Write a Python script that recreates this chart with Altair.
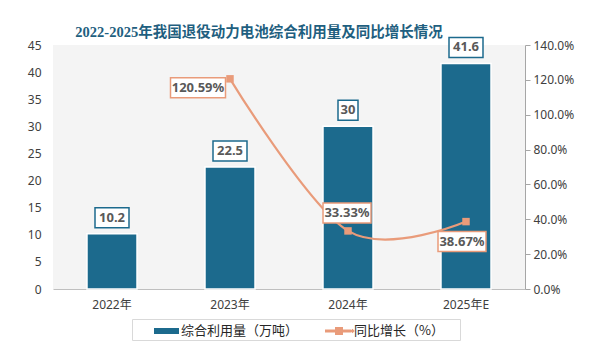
import altair as alt
import pandas as pd

# ---- data ----
years = ["2022年", "2023年", "2024年", "2025年E"]
volume = [10.2, 22.5, 30, 41.6]
volume_labels = ["10.2", "22.5", "30", "41.6"]
growth_years = ["2023年", "2024年", "2025年E"]
growth = [120.59, 33.33, 38.67]
growth_labels = ["120.59%", "33.33%", "38.67%"]
series = ["综合利用量（万吨）", "同比增长（%）"]
left_ticks = [0, 5, 10, 15, 20, 25, 30, 35, 40, 45]
right_ticks = [0, 20, 40, 60, 80, 100, 120, 140]

TEAL = "#1C6A8D"
ORANGE = "#E99B7A"
TXT = "#595959"
AX = "#404040"
FONT = "Noto Sans, Noto Sans CJK SC, sans-serif"


def box_path(s, h=20):
    w = 7 * len(s) + 6
    return f"M{-w/2},{-h/2}H{w/2}V{h/2}H{-w/2}Z"


bars_df = pd.DataFrame({"year": years, "v": volume, "label": volume_labels})
bars_df["box"] = [box_path(s) for s in volume_labels]
bars_df["series"] = series[0]

line_df = pd.DataFrame({"year": growth_years, "g": growth, "label": growth_labels})
line_df["box"] = [box_path(s) for s in growth_labels]
line_df["series"] = series[1]

# legend symbols (unit = 10 px); the lone zero-area subpaths only widen the legend frame
BAR_SYM = "M-1,0L-1,0Z M1,-0.3H3.5V0.3H1Z"
LINE_SYM = ("M0.8,-0.14H3.4V0.14H0.8Z M1.8,-0.4H2.6V0.4H1.8Z "
            "M3.33,0L3.55,-0.22L3.77,0L3.55,0.22Z M14.1,0L14.1,0Z")

legend = alt.Legend(
    title=None, orient="none", legendX=79, legendY=274, direction="horizontal",
    symbolSize=400, symbolOpacity=1, symbolStrokeWidth=0,
    labelFontSize=13, labelFont="Noto Sans CJK SC", labelColor="#262626",
    padding=2, strokeColor="#D9D9D9", fillColor="white", columnPadding=8,
    labelOffset=27,
)
color_scale = alt.Scale(domain=series, range=[TEAL, ORANGE])
shape_scale = alt.Scale(domain=series, range=[BAR_SYM, LINE_SYM])

xenc = alt.X(
    "year:N", sort=years,
    scale=alt.Scale(type="band", paddingInner=0.576, paddingOuter=0.288),
    axis=alt.Axis(title=None, labelAngle=0, ticks=False, domainColor="#BFBFBF",
                  labelPadding=10, labelFontSize=12, labelColor=AX, labelFont=FONT),
)

yleft = alt.Y(
    "v:Q", scale=alt.Scale(domain=[0, 45], nice=False),
    axis=alt.Axis(values=left_ticks, title=None, domain=False, ticks=False, grid=False,
                  labelPadding=12, labelFontSize=12, labelColor=AX, labelFont=FONT),
)

yright = alt.Y(
    "g:Q", scale=alt.Scale(domain=[0, 140], nice=False),
    axis=alt.Axis(orient="right", values=right_ticks, title=None, grid=False,
                  labelExpr="format(datum.value, '.1f') + '%'",
                  domainColor="#A6A6A6", tickColor="#A6A6A6", tickSize=5,
                  labelPadding=3, labelFontSize=12, labelColor=AX, labelFont=FONT),
)

bars = alt.Chart(bars_df).mark_bar(stroke="white", strokeWidth=1.5).encode(
    x=xenc, y=yleft,
    color=alt.Color("series:N", scale=color_scale, legend=legend),
)
bar_boxes = alt.Chart(bars_df).mark_point(
    filled=True, fill="white", stroke=TEAL, strokeWidth=1.5, opacity=1, size=4, yOffset=-16
).encode(x=xenc, y=yleft, shape=alt.Shape("box:N", scale=None, legend=None))
bar_text = alt.Chart(bars_df).mark_text(
    dy=-16, fontWeight="bold", fontSize=13, color=TXT, font=FONT
).encode(x=xenc, y=yleft, text="label:N")

left = alt.layer(bars, bar_boxes, bar_text)

line = alt.Chart(line_df).mark_line(interpolate="cardinal", strokeWidth=2.2, color=ORANGE).encode(
    x=xenc, y=yright,
)
# invisible layer that only carries the legend entry for the line series
legend_marks = alt.Chart(line_df).mark_point(filled=True, size=64, opacity=0).encode(
    x=xenc, y=yright,
    color=alt.Color("series:N", scale=color_scale, legend=legend),
    shape=alt.Shape("series:N", scale=shape_scale, legend=legend),
)
marks = alt.Chart(line_df).mark_square(size=56, color=ORANGE, opacity=1).encode(x=xenc, y=yright)

placements = {"120.59%": (-32, 9), "33.33%": (-1, -18), "38.67%": (-4, 20)}
label_layers = []
for lab, (dx, dy) in placements.items():
    base = alt.Chart(line_df).transform_filter(alt.datum.label == lab)
    label_layers.append(base.mark_point(
        filled=True, fill="white", stroke=ORANGE, strokeWidth=1.5, opacity=1, size=4,
        xOffset=dx, yOffset=dy
    ).encode(x=xenc, y=yright, shape=alt.Shape("box:N", scale=None, legend=None)))
    label_layers.append(base.mark_text(
        dx=dx, dy=dy, fontWeight="bold", fontSize=13, color=TXT, font=FONT
    ).encode(x=xenc, y=yright, text="label:N"))

right = alt.layer(line, legend_marks, marks, *label_layers)

chart = alt.layer(left, right).resolve_scale(y="independent").properties(
    width=472, height=244,
    autosize=alt.AutoSizeParams(type="none"),
    padding={"left": 45, "top": 37, "right": 57, "bottom": 63},
    background="white",
    title=alt.Title(
        "2022-2025年我国退役动力电池综合利用量及同比增长情况",
        fontSize=14.5, fontWeight="bold", color="#1F5F80",
        font="Liberation Serif, Noto Sans CJK SC", anchor="middle", dx=-30, offset=8, dy=14,
    ),
).configure_view(stroke=None, fill="#F4F4F4")

chart.save("out.html", embed_options={"renderer": "svg", "actions": False})
